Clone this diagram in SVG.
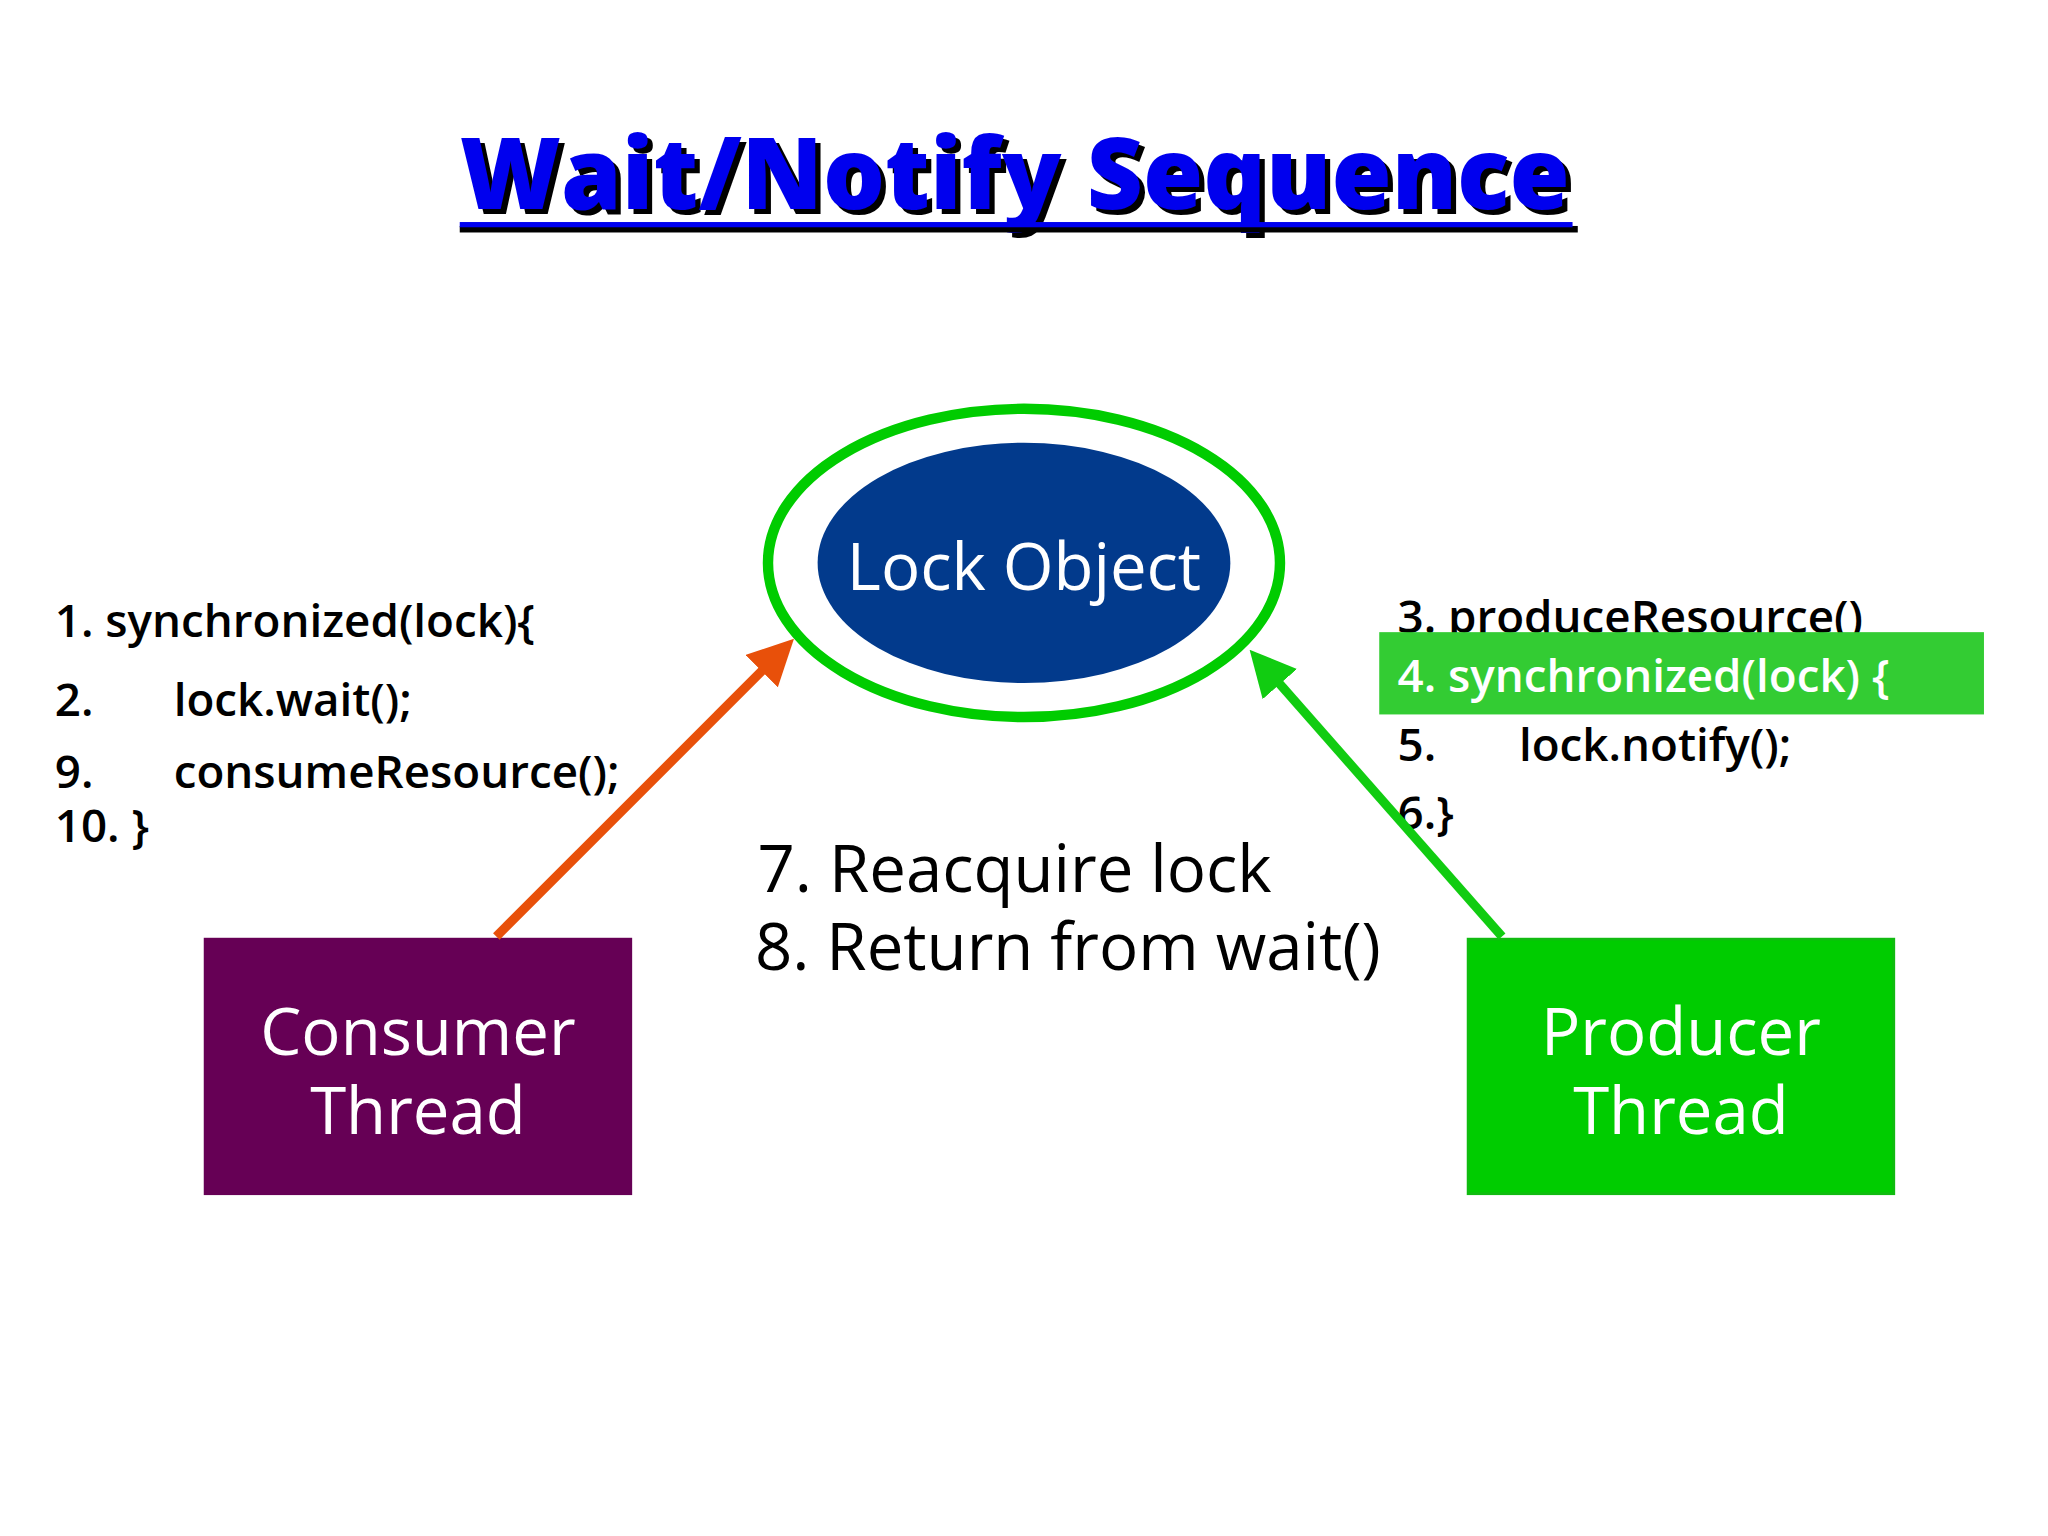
<svg xmlns="http://www.w3.org/2000/svg" width="2048" height="1536" viewBox="0 0 2048 1536">
<style>
.code{font-family:"Open Sans","DejaVu Sans",sans-serif;font-size:35px;font-weight:600;fill:#000}
.big{font-family:"Open Sans","DejaVu Sans",sans-serif;font-size:50px;fill:#000}
.wt{font-family:"Open Sans","DejaVu Sans",sans-serif;font-size:50px;fill:#fff;text-anchor:middle}
</style>
<defs>
<marker id="ao" markerWidth="5" markerHeight="5" refX="3" refY="2.5" orient="auto" markerUnits="strokeWidth"><path d="M0,0 L5,2.5 L0,5 z" fill="#e8500a"/></marker>
<marker id="ag" markerWidth="5" markerHeight="5" refX="3" refY="2.5" orient="auto" markerUnits="strokeWidth"><path d="M0,0 L5,2.5 L0,5 z" fill="#11cc11"/></marker>
</defs>
<rect width="2048" height="1536" fill="#fff"/>
<g transform="scale(1.3061)">
<g id="title">
<text x="356" y="164" textLength="850" lengthAdjust="spacingAndGlyphs" font-family="Open Sans, DejaVu Sans, sans-serif" font-size="76" font-weight="800" fill="#000">Wait/Notify Sequence</text>
<text x="352" y="160" textLength="850" lengthAdjust="spacingAndGlyphs" font-family="Open Sans, DejaVu Sans, sans-serif" font-size="76" font-weight="800" fill="#0000ee">Wait/Notify Sequence</text>
<rect x="352" y="173" width="856" height="5" fill="#000"/>
<rect x="352" y="170" width="852" height="4" fill="#0000ee"/>
</g>
<g id="lock">
<ellipse cx="784" cy="431" rx="196" ry="118" fill="none" stroke="#00cc00" stroke-width="8"/>
<ellipse cx="784" cy="431" rx="158" ry="92" fill="#023a8c"/>
<text x="784" y="452" class="wt" font-size="52">Lock Object</text>
</g>
<g id="consumer">
<rect x="156" y="718" width="328" height="197" fill="#660055"/>
<text x="320" y="808" class="wt">Consumer</text>
<text x="320" y="868" class="wt">Thread</text>
</g>
<g id="producer">
<rect x="1124" y="719" width="326" height="195" fill="#00cc00" stroke="#11bb11" stroke-width="2"/>
<text x="1287" y="808" class="wt">Producer</text>
<text x="1287" y="868" class="wt">Thread</text>
</g>
<g id="leftcode">
<text x="42" y="488" class="code">1. synchronized(lock){</text>
<text x="42" y="548" class="code">2.</text><text x="133" y="548" class="code">lock.wait();</text>
<text x="42" y="603" class="code">9.</text><text x="133" y="603" class="code">consumeResource();</text>
<text x="42" y="645" class="code">10. }</text>
</g>
<g id="rightcode">
<text x="1070" y="485" class="code">3. produceResource()</text>
<rect x="1056" y="484" width="463" height="63" fill="#33cc33"/>
<text x="1070" y="530" class="code" style="fill:#fff">4.  synchronized(lock) {</text>
<text x="1070" y="583" class="code">5.</text><text x="1163" y="583" class="code">lock.notify();</text>
<text x="1070" y="635" class="code">6.}</text>
</g>
<g id="steps">
<text x="580" y="683" class="big">7. Reacquire lock</text>
<text x="578" y="743" class="big">8. Return from wait()</text>
</g>
<g id="connectors">
<line x1="380" y1="717" x2="598" y2="499" stroke="#e8500a" stroke-width="7" marker-end="url(#ao)"/>
<line x1="1150" y1="717" x2="966" y2="508" stroke="#11cc11" stroke-width="7" marker-end="url(#ag)"/>
</g>
</g>
</svg>
